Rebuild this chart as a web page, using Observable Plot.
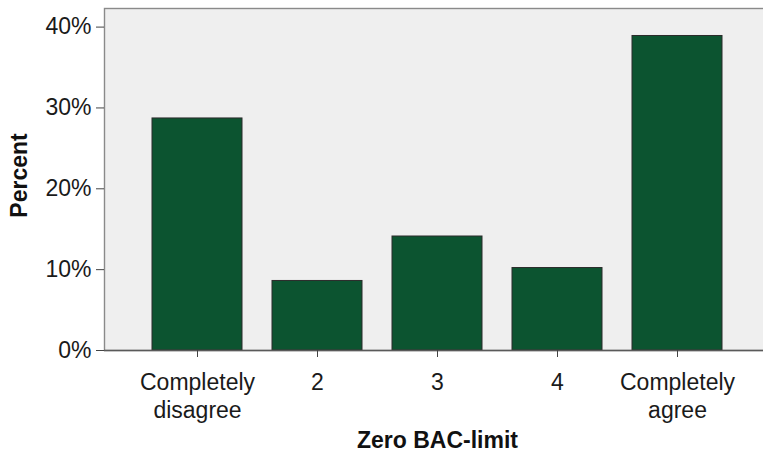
<!DOCTYPE html>
<html>
<head>
<meta charset="utf-8">
<script src="https://cdn.jsdelivr.net/npm/d3@7"></script>
<script src="https://cdn.jsdelivr.net/npm/@observablehq/plot@0.6"></script>
<style>
  html, body { margin: 0; padding: 0; background: #ffffff; overflow: hidden; }
  #chart { width: 763px; height: 452px; overflow: hidden; }
  #chart svg { max-width: none !important; width: 775px !important; height: 452px !important; }
</style>
</head>
<body>
<div id="chart"></div>
<script>
const categories = ["Completely disagree", "2", "3", "4", "Completely agree"];
const percents = [28.7, 8.6, 14.1, 10.2, 38.9];
const yTicks = [0, 10, 20, 30, 40];
const xTitle = "Zero BAC-limit";
const yTitle = "Percent";

const data = categories.map((c, i) => ({cat: c, value: percents[i]}));
const tickLabel = (c) => c.replace("Completely ", "Completely\n");

const chart = Plot.plot({
  width: 775,
  height: 452,
  marginLeft: 104,
  marginRight: 5,
  marginTop: 8,
  marginBottom: 102,
  style: {
    fontFamily: "'Liberation Sans', Arial, sans-serif",
    fontSize: "23px",
    color: "#1a1a1a",
    background: "#ffffff",
    overflow: "visible"
  },
  x: {domain: categories, paddingInner: 0.25, paddingOuter: 0.4},
  y: {domain: [0, 42.3]},
  marks: [
    Plot.frame({fill: "#efefef", stroke: "#8a8a8a", strokeWidth: 1.4}),
    Plot.barY(data, {x: "cat", y: "value", fill: "#0c5430", stroke: "#2b2b2b", strokeWidth: 1}),
    Plot.ruleY([0], {stroke: "#5a5a5a", strokeWidth: 1.4}),
    Plot.axisY({ticks: yTicks, tickFormat: d => d + "%", tickSize: 8, tickPadding: 5, label: null, stroke: "#444", fill: "#1a1a1a"}),
    Plot.axisX({tickFormat: tickLabel, tickSize: 7, tickPadding: 13, label: null, lineHeight: 1.2, stroke: "#444", fill: "#1a1a1a"}),
    Plot.text([xTitle], {text: d => d, frameAnchor: "bottom", lineAnchor: "top", dy: 81, fontWeight: "bold", fontSize: 23, fill: "#111"}),
    Plot.text([yTitle], {text: d => d, frameAnchor: "left", textAnchor: "middle", rotate: -90, lineAnchor: "top", dx: -94, dy: -4, fontWeight: "bold", fontSize: 23, fill: "#111"})
  ]
});
document.getElementById("chart").appendChild(chart);
</script>
</body>
</html>
